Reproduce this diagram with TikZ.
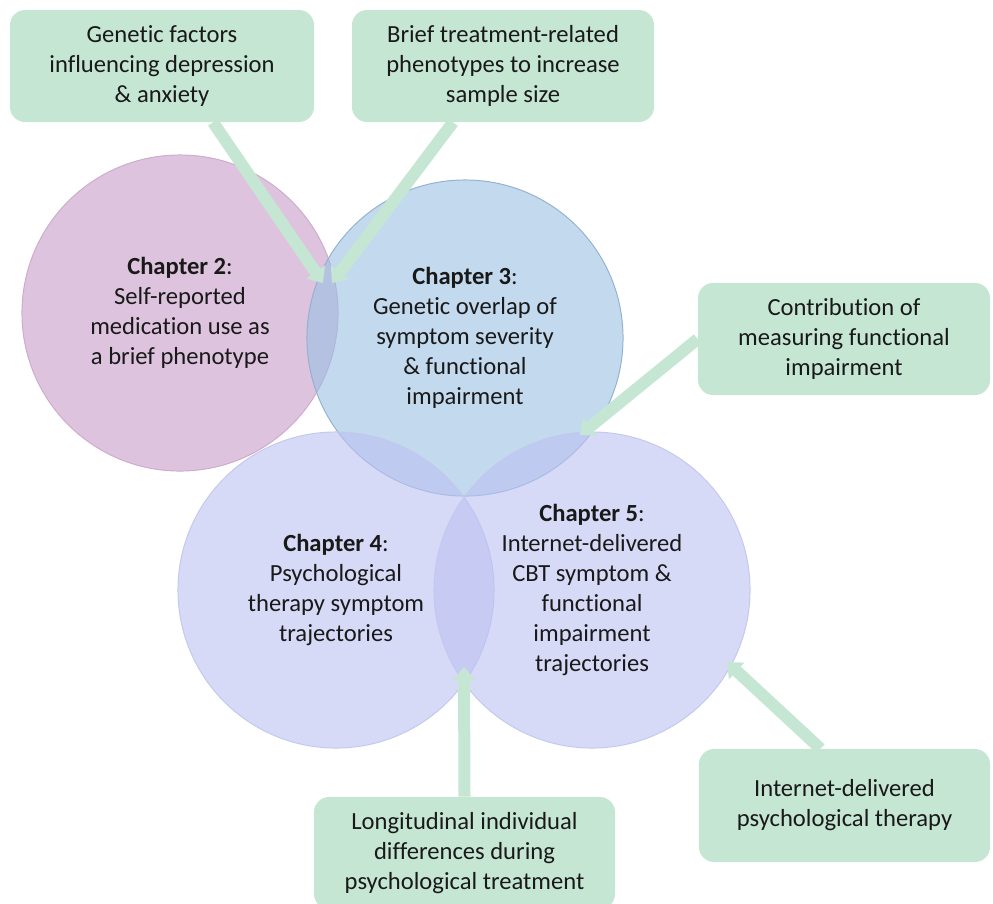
\documentclass[tikz,border=0pt]{standalone}
\usepackage{fontspec}
\setmainfont{Carlito}[Ligatures=NoCommon]
\usetikzlibrary{arrows.meta}

\definecolor{noteGreen}{RGB}{198,230,212}
\definecolor{pinkFill}{RGB}{198,155,198}
\definecolor{pinkLine}{RGB}{205,172,205}
\definecolor{blueFill}{RGB}{155,192,227}
\definecolor{blueLine}{RGB}{148,178,208}
\definecolor{lilacFill}{RGB}{188,193,242}
\definecolor{lilacLine}{RGB}{195,200,238}
\definecolor{textGrey}{RGB}{25,25,25}

\def \circleSize {7.9cm}
\def \boxHeight {2.8cm}
\def \textFont {\fontsize{17.5}{21.3}\selectfont}

\tikzset{
  chapter/.style={circle, minimum size=\circleSize, inner sep=0pt,
    fill opacity=0.6, line width=0.7pt},
  chapterText/.style={align=center, inner sep=0pt, font=\textFont, text=textGrey},
  noteBox/.style={rectangle, rounded corners=0.38cm, fill=noteGreen,
    minimum height=\boxHeight, align=center, inner sep=0pt,
    font=\textFont, text=textGrey},
  noteArrow/.style={draw=noteGreen, line width=0.3cm,
    -{Triangle[width=0.55cm,length=0.33cm]}}
}

\begin{document}
\begin{tikzpicture}[x=0.025cm, y=-0.025cm]
  \useasboundingbox (0,0) rectangle (993,903);

  % chapter circles
  \node[chapter, fill=pinkFill, draw=pinkLine] (ch2) at (180,313) {};
  \node[chapter, fill=blueFill, draw=blueLine] (ch3) at (465,338) {};
  \node[chapter, fill=lilacFill, draw=lilacLine] (ch4) at (336,590) {};
  \node[chapter, fill=lilacFill, draw=lilacLine] (ch5) at (592,590) {};

  % chapter texts
  \node[chapterText] (ch2text) at (ch2) {\textbf{Chapter 2}:\\Self-reported\\medication use as\\a brief phenotype};
  \node[chapterText] (ch3text) at (ch3) {\textbf{Chapter 3}:\\Genetic overlap of\\symptom severity\\\& functional\\impairment};
  \node[chapterText] (ch4text) at (ch4) {\textbf{Chapter 4}:\\Psychological\\therapy symptom\\trajectories};
  \node[chapterText] (ch5text) at (ch5) {\textbf{Chapter 5}:\\Internet-delivered\\CBT symptom \&\\functional\\impairment\\trajectories};

  % note boxes
  \node[noteBox, minimum width=7.6cm] (genetic) at (162,66) {Genetic factors\\influencing depression\\\& anxiety};
  \node[noteBox, minimum width=7.55cm] (brief) at (503,66) {Brief treatment-related\\phenotypes to increase\\sample size};
  \node[noteBox, minimum width=7.3cm] (contrib) at (844,339) {Contribution of\\measuring functional\\impairment};
  \node[noteBox, minimum width=7.525cm] (longit) at (464.5,853) {Longitudinal individual\\differences during\\psychological treatment};
  \node[noteBox, minimum width=7.275cm, minimum height=2.825cm] (internet) at (844.5,805.5) {Internet-delivered\\psychological therapy};

  % arrow ends
  \coordinate (tipGenetic) at (323,283);
  \coordinate (tipBrief) at (332,283);
  \coordinate (tipContrib) at (580,435);
  \coordinate (tipLongit) at (464,667);
  \coordinate (tipInternet) at (727,662);

  \draw[noteArrow] ([xshift=1.275cm]genetic.south) -- (tipGenetic);
  \draw[noteArrow] ([xshift=-1.25cm]brief.south) -- (tipBrief);
  \draw[noteArrow] (contrib.west) -- (tipContrib);
  \draw[noteArrow] (longit.north) -- (tipLongit);
  \draw[noteArrow] ([xshift=-0.6cm]internet.north) -- (tipInternet);
\end{tikzpicture}
\end{document}
